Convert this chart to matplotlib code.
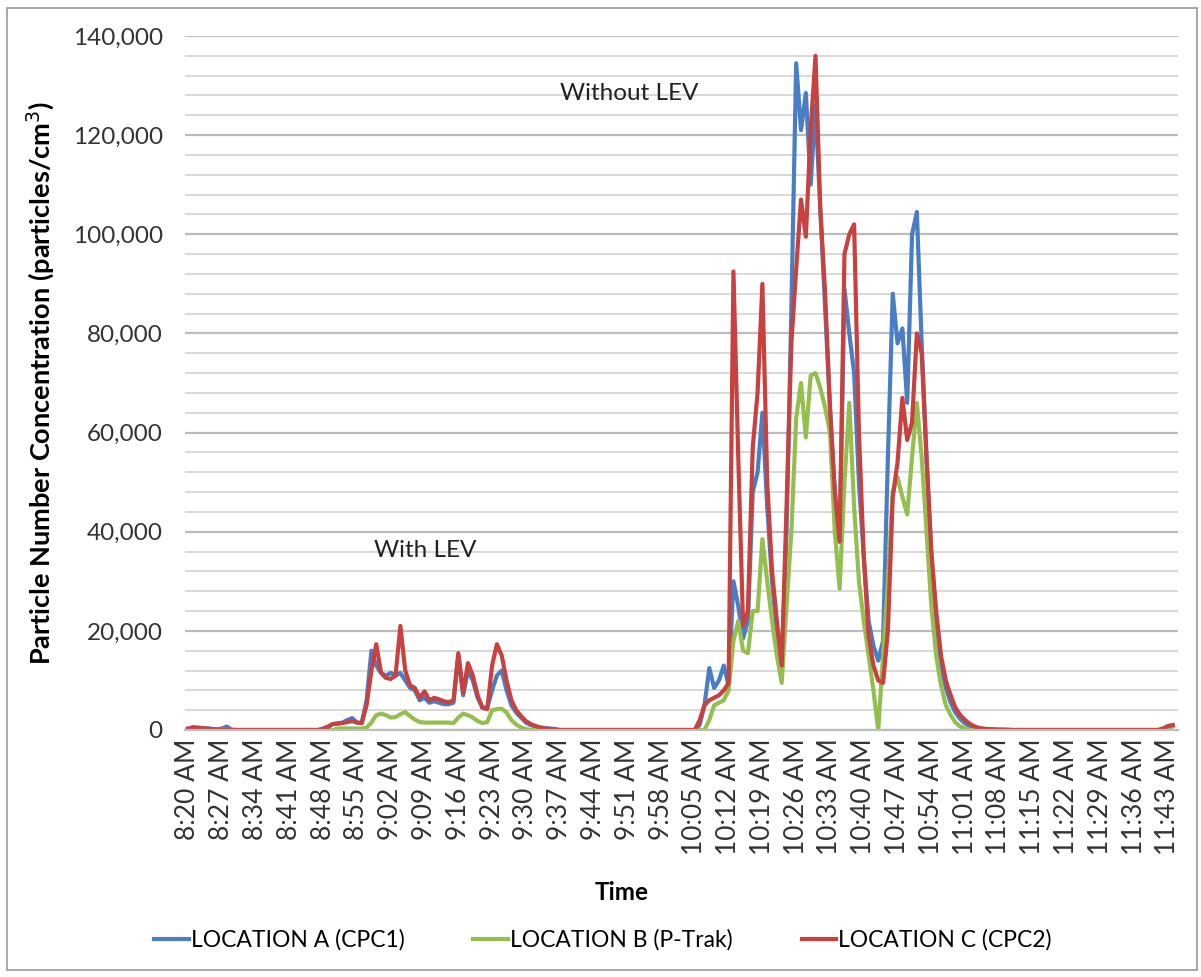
import numpy as np
import pandas as pd
import matplotlib
matplotlib.use("Agg")
import matplotlib.pyplot as plt
import matplotlib.patches as patches

plt.rcParams['font.family'] = ['Lato', 'DejaVu Sans']

fig_name = "out.png"

##################### DATA (one value per minute, 8:20 AM -> 11:44 AM) #####################

start_time = "08:20"
tick_step = 7   # a label every 7 minutes

loc_a = ([200, 600, 500, 400, 300, 200, 100, 300, 700, 100] + [0] * 18 +
         [300, 700, 1200, 1300, 1500, 2000, 2400, 1500, 1400, 6000,
          16000, 13000, 11500, 11000, 11500, 11000, 11500, 10000, 8500, 8000,
          6000, 6500, 5500, 5800, 5500, 5200, 5200, 5500, 15000, 7000,
          12000, 10000, 6500, 4500, 4500, 8000, 11000, 12000, 8000, 5000,
          3500, 2500, 1500, 1000, 700, 500, 400, 300, 200] + [0] * 29 +
         [1000, 5000, 12500, 8500, 10000, 13000, 9000, 30000, 25000, 18500,
          22000, 48000, 52000, 64000, 45000, 30000, 20000, 12000, 40000, 85000,
          134500, 121000, 128500, 110000, 126000, 105000, 85000, 65000, 48000, 38000,
          89000, 80000, 72000, 50000, 35000, 22000, 17000, 14000, 18000, 55000,
          88000, 78000, 81000, 66000, 100000, 104500, 78000, 55000, 35000, 22000,
          13000, 8500, 5500, 3500, 2200, 1300, 800, 500, 300, 200] + [0] * 36 +
         [200, 600, 900])

loc_b = ([0] * 31 + [300] * 6 +
         [500, 1500, 3000, 3300, 3000, 2500, 2600, 3200, 3600, 2800,
          2100, 1600, 1500, 1500, 1500, 1500, 1500, 1500, 1400, 2500,
          3300, 3000, 2500, 1800, 1400, 1600, 4000, 4200, 4300, 3500,
          2000, 1100, 500, 200] + [0] * 37 +
         [2000, 5000, 5500, 6000, 8000, 18000, 22000, 16000, 15500, 24000,
          24000, 38500, 30000, 22000, 15000, 9500, 25000, 40000, 63000, 70000,
          59000, 71500, 72000, 69000, 65000, 60000, 40000, 28500, 50000, 66000,
          45000, 30000, 22000, 15000, 8000, 0, 15000, 30000, 48000, 51000,
          47000, 43500, 55000, 66000, 55000, 40000, 25000, 15000, 9000, 5000,
          3000, 1500, 700, 300] + [0] * 41 +
         [300, 700])

loc_c = ([300, 400, 400, 300, 300, 200, 100] + [0] * 21 +
         [200, 600, 1200, 1300, 1400, 1600, 1800, 1500, 1400, 5000,
          12000, 17300, 11500, 10500, 10300, 11000, 21000, 12000, 9000, 8500,
          6500, 7800, 6000, 6500, 6200, 5800, 5600, 6000, 15500, 7500,
          13500, 11000, 7000, 4500, 4200, 13000, 17300, 15000, 10000, 6000,
          4000, 2800, 1800, 1200, 800, 500, 300, 200, 100] + [0] * 29 +
         [2000, 5000, 6000, 6500, 7000, 8000, 9500, 92500, 55000, 21000,
          24000, 57000, 68000, 90000, 50000, 32000, 22000, 13000, 45000, 78000,
          93000, 107000, 99500, 121000, 136000, 105000, 88000, 65000, 48000, 38000,
          96000, 100000, 102000, 60000, 35000, 19000, 13000, 10000, 9500, 20000,
          47000, 54000, 67000, 58500, 62000, 80000, 76000, 55000, 36000, 24000,
          15000, 10000, 7000, 4500, 3000, 2000, 1200, 700, 400, 250,
          200, 150, 100, 100, 50] + [0] * 31 +
         [300, 800, 1000])

n = len(loc_a)
assert len(loc_b) == n and len(loc_c) == n, (len(loc_a), len(loc_b), len(loc_c))

times = pd.date_range("2000-01-01 " + start_time, periods=n, freq="1min")
tick_labels = [t.strftime("%I:%M %p").lstrip("0") for t in times[::tick_step]]
idx = np.arange(n)

########################### FIGURE ###################################

W, H = 1201, 977
fig = plt.figure(figsize=(W / 100, H / 100), dpi=100)
ax = fig.add_axes([185 / W, 1 - 730 / H, (1178 - 185) / W, (730 - 36) / H])

# chart border like the spreadsheet chart area
fig.patches.append(patches.Rectangle((7 / W, 1 - 970 / H), 1190 / W, 962 / H,
                                     transform=fig.transFigure, fill=False,
                                     edgecolor='#9a9a9a', lw=1.2))

ax.plot(idx, loc_a, color='#4A7EC4', lw=3.0, label="LOCATION A (CPC1)", solid_joinstyle='round')
ax.plot(idx, loc_b, color='#94BF4E', lw=3.0, label="LOCATION B (P-Trak)", solid_joinstyle='round')
ax.plot(idx, loc_c, color='#C8413F', lw=3.0, label="LOCATION C (CPC2)", solid_joinstyle='round')

ax.set_xlim(-0.62, 205.1)
ax.set_ylim(0, 140000)

ax.set_yticks(np.arange(0, 140001, 20000))
ax.set_yticks(np.arange(0, 140001, 4000), minor=True)
ax.yaxis.set_major_formatter(matplotlib.ticker.StrMethodFormatter('{x:,.0f}'))
ax.grid(True, axis='y', which='minor', color='#d6d6d6', lw=1.3)
ax.grid(True, axis='y', which='major', color='#bcbcbc', lw=1.6)
ax.set_axisbelow(True)

ax.set_xticks(idx[::tick_step])
ax.set_xticklabels(tick_labels, rotation=90)

ax.tick_params(axis='y', which='both', length=0, pad=16, labelsize=17.5, labelcolor='#333333')
ax.tick_params(axis='x', length=0, pad=6, labelsize=19, labelcolor='#333333')
for s in ['top', 'right', 'left']:
    ax.spines[s].set_visible(False)
ax.spines['bottom'].set_color('#bcbcbc')
ax.spines['bottom'].set_linewidth(1.6)

ax.set_ylabel('Particle Number Concentration (particles/cm$^3$)', fontsize=19.5,
              fontweight='bold', va='center')
ax.yaxis.set_label_coords((40 - 185) / 993, 0.5)
ax.set_xlabel('Time', fontsize=17.5, fontweight='bold', va='center')
ax.xaxis.set_label_coords((622 - 185) / 993, -(893 - 730) / 694)

ax.text(77, 128500, 'Without LEV', fontsize=17.5, va='center', ha='left', color='#222222')
ax.text(38.5, 36300, 'With LEV', fontsize=17.5, va='center', ha='left', color='#222222')

fig.legend(loc='center', bbox_to_anchor=(603 / W, 1 - 940 / H), ncol=3, frameon=False,
           fontsize=16.5, handlelength=1.5, handletextpad=0.1, columnspacing=3.0)

plt.savefig(fig_name, dpi=100, facecolor='w')
